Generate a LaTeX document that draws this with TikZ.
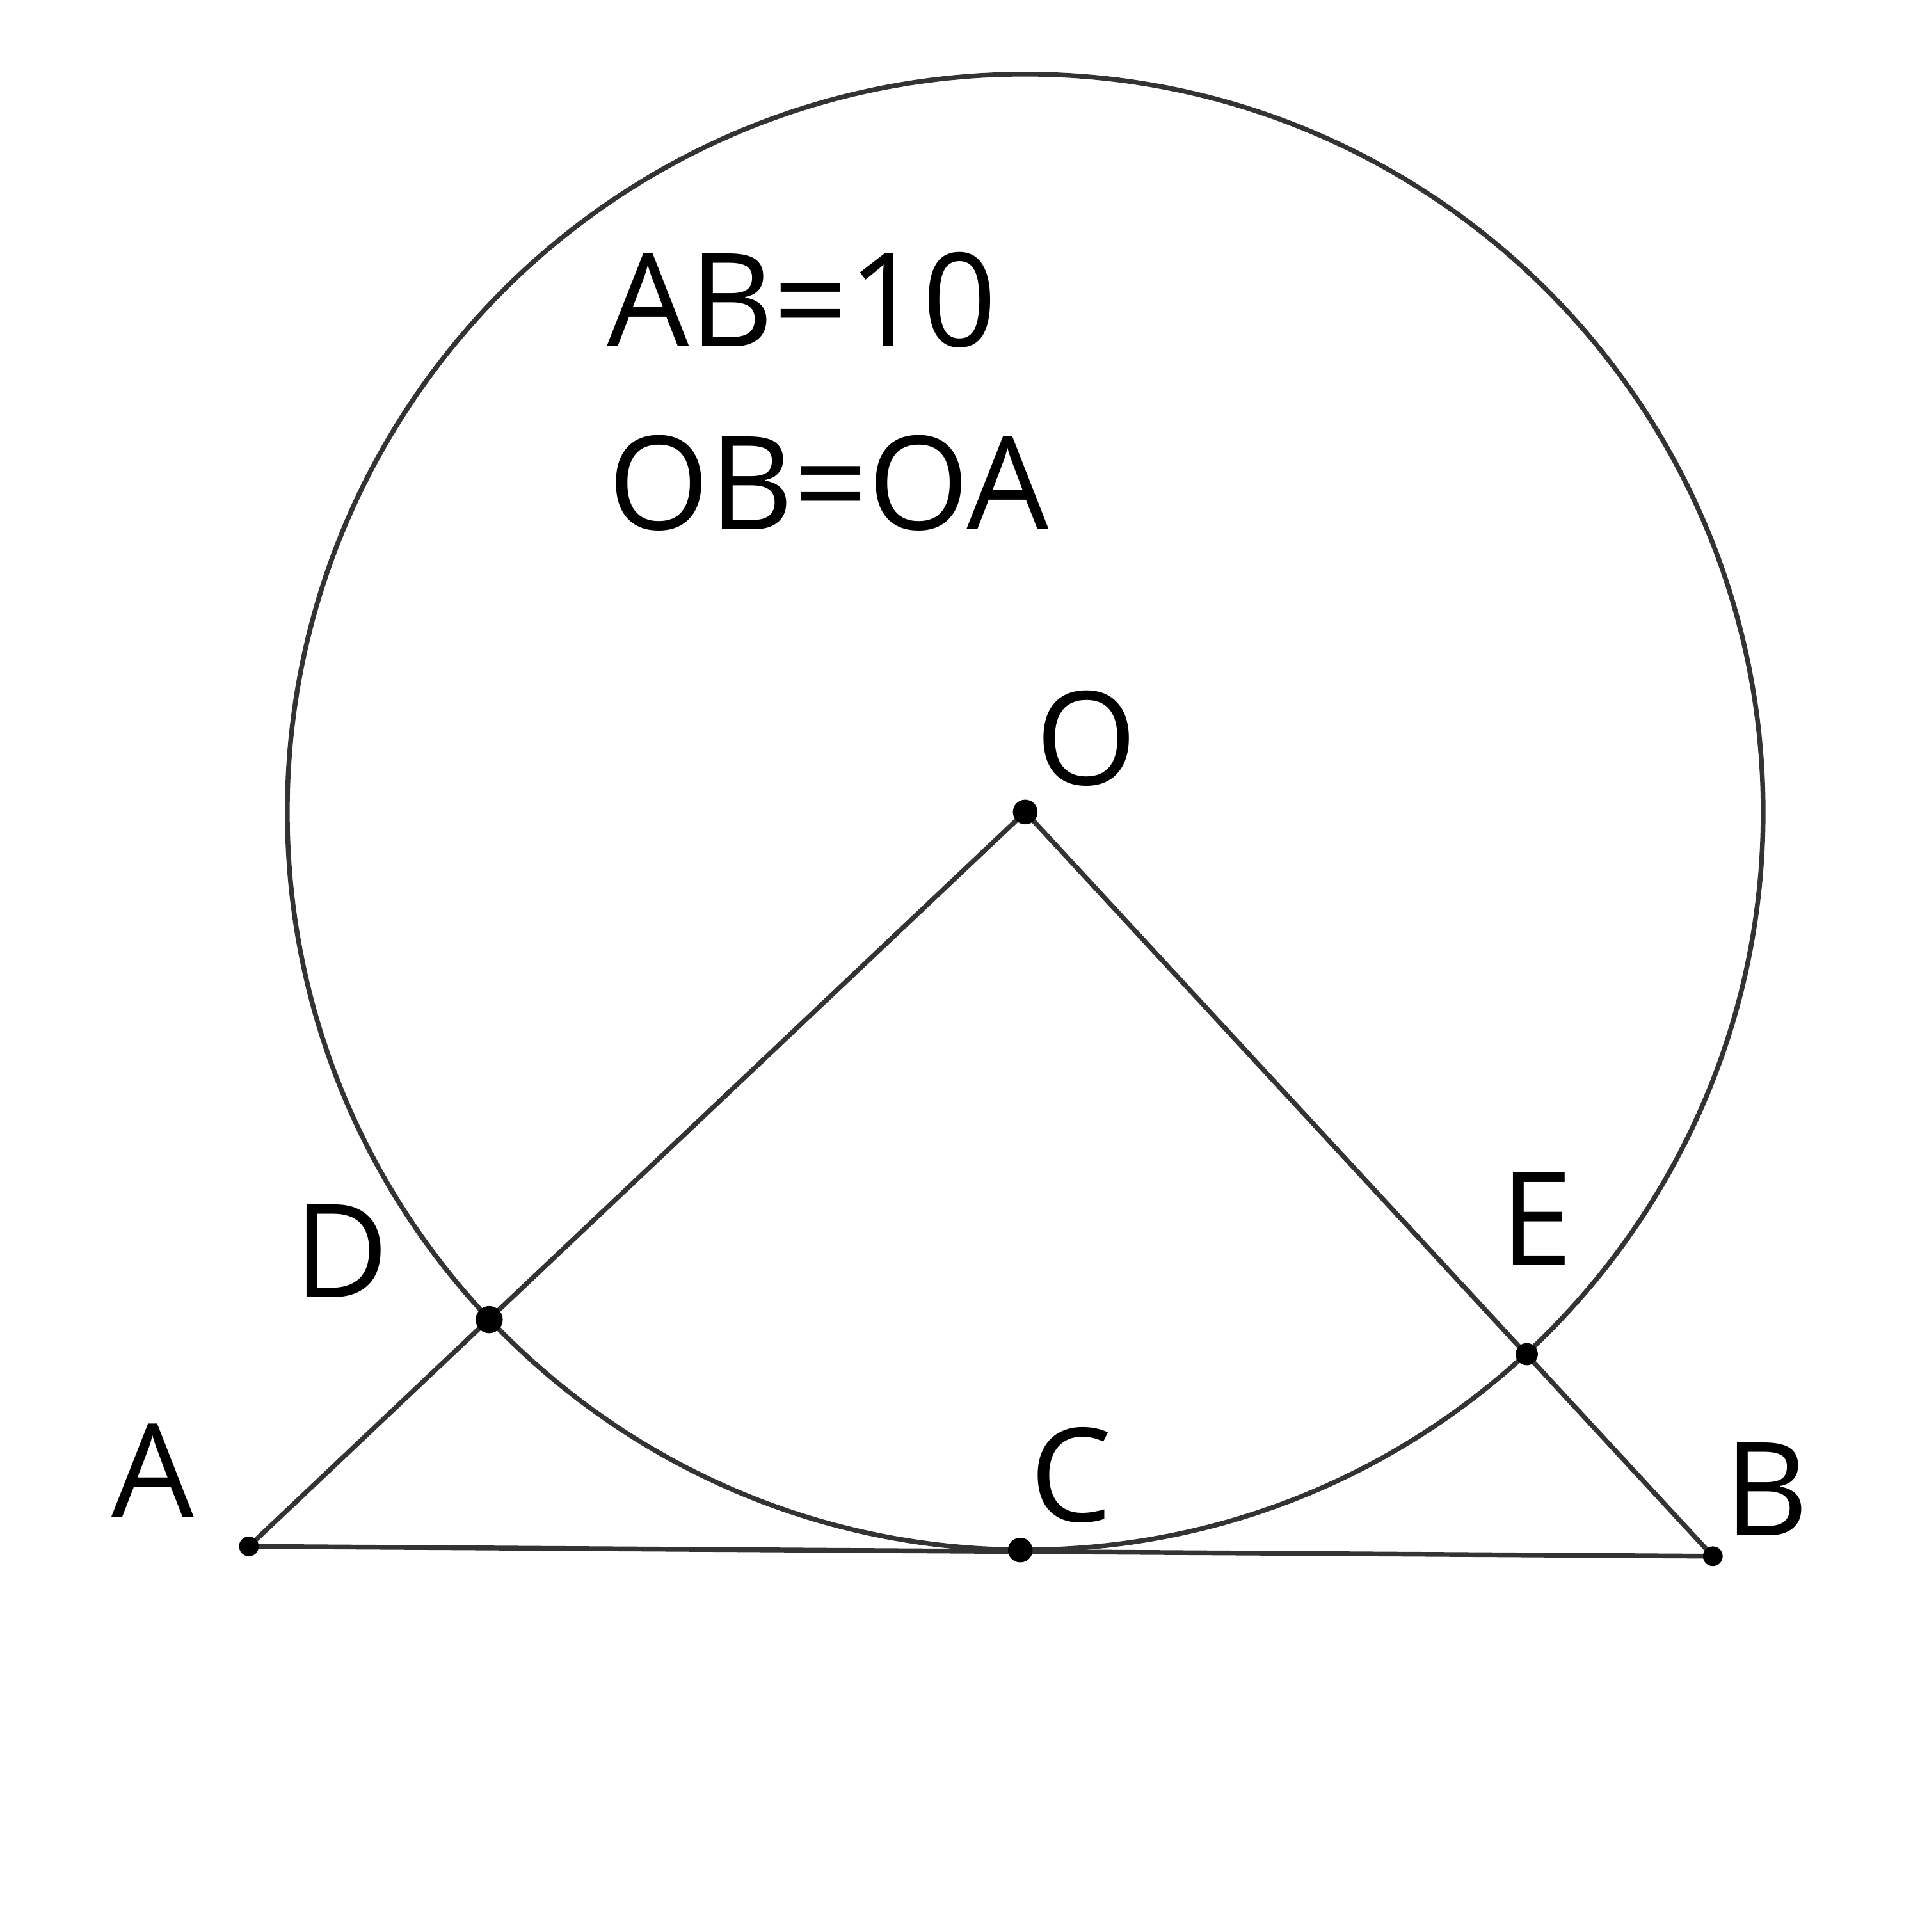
\documentclass[tikz,border=0pt]{standalone}
\usepackage{fontspec}
\setmainfont{Open Sans}
\definecolor{ln}{HTML}{333333}
\begin{document}
\begin{tikzpicture}[x=0.01cm,y=-0.01cm,
  seg/.style={draw=ln,line width=1.1pt},
  lbl/.style={inner sep=0pt,anchor=base west,font=\fontsize{30}{36}\selectfont},
  pt/.style={fill=black}]
\useasboundingbox (0,0) rectangle (1558,1568);
\coordinate (O) at (832,659);
\coordinate (A) at (202,1255);
\coordinate (B) at (1390,1263);
\coordinate (C) at (828,1258);
\coordinate (D) at (397,1071);
\coordinate (E) at (1239,1099);
\draw[seg] (O) circle[radius=5.985cm];
\draw[seg] (A) -- (O) -- (B) -- (A);
\fill[pt] (O) circle[radius=0.10cm];
\fill[pt] (D) circle[radius=0.11cm];
\fill[pt] (A) circle[radius=0.08cm];
\fill[pt] (B) circle[radius=0.08cm];
\fill[pt] (C) circle[radius=0.10cm];
\fill[pt] (E) circle[radius=0.09cm];
\node[lbl] (t1) at (492,281) {AB=10};
\node[lbl] (t2) at (493,430) {OB=OA};
\node[lbl] (lA) at (90,1231) {A};
\node[lbl] (lD) at (238,1053) {D};
\node[lbl] (lO) at (840,637) {O};
\node[lbl] (lE) at (1217,1027) {E};
\node[lbl] (lC) at (835,1235) {C};
\node[lbl] (lB) at (1399,1246) {B};
\end{tikzpicture}
\end{document}
